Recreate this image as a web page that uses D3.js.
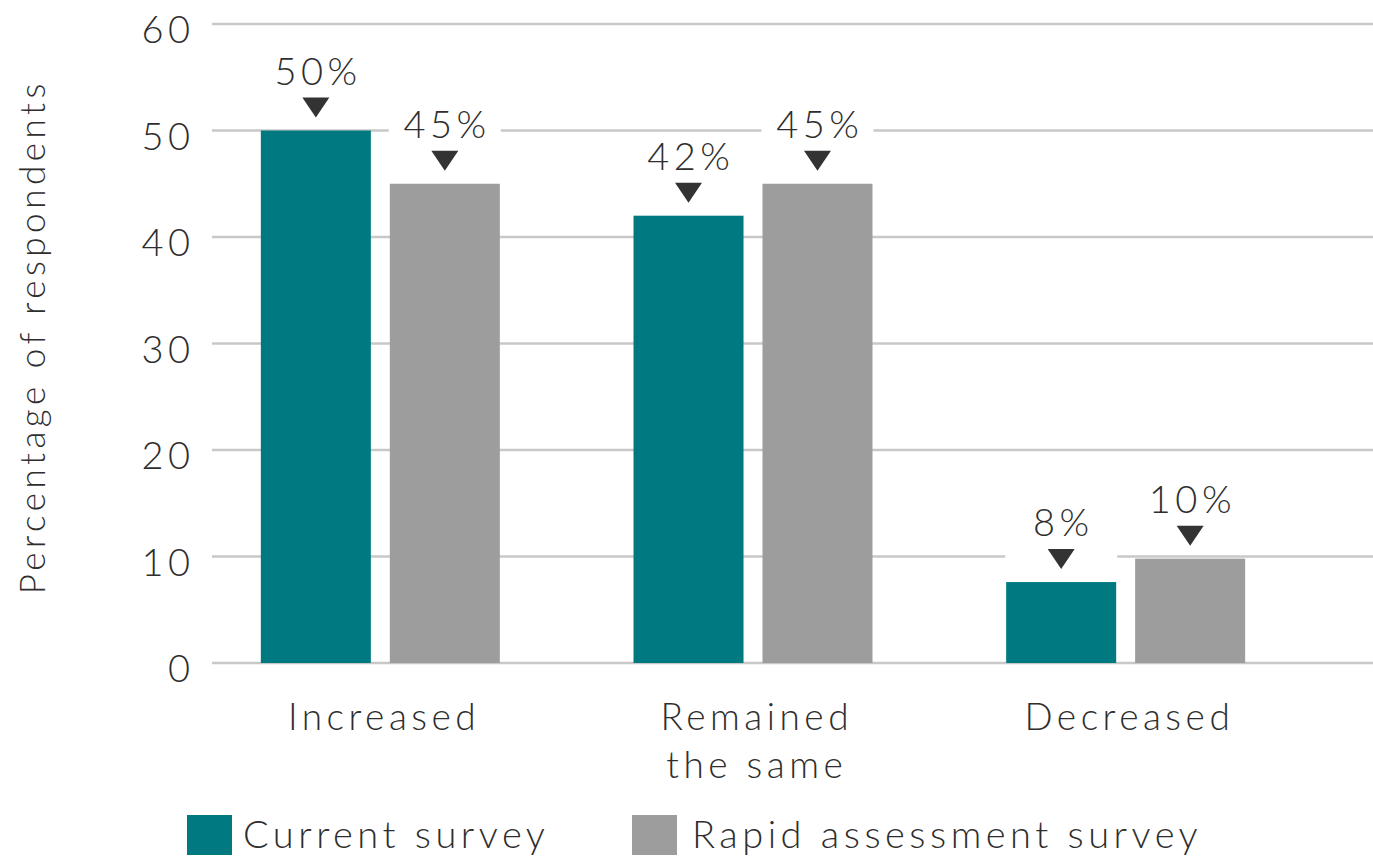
<!DOCTYPE html>
<html>
<head>
<meta charset="utf-8">
<script src="https://cdn.jsdelivr.net/npm/d3@7"></script>
<style>
  html, body { margin: 0; padding: 0; background: #ffffff; }
  svg { display: block; }
  text { font-family: "Lato", "Open Sans", sans-serif; font-weight: 300; fill: #2e2e2e; }
</style>
</head>
<body>
<svg id="chart" width="1373" height="864"></svg>
<script>
// ---- data ----
const categories = ["Increased", "Remained the same", "Decreased"];
const categoryLines = [["Increased"], ["Remained", "the same"], ["Decreased"]];
const seriesNames = ["Current survey", "Rapid assessment survey"];
const currentValues = [50, 42, 7.6];
const rapidValues = [45, 45, 9.8];
const currentLabels = ["50%", "42%", "8%"];
const rapidLabels = ["45%", "45%", "10%"];
const yTicks = [0, 10, 20, 30, 40, 50, 60];
const yTitle = "Percentage of respondents";
const colors = ["#007a80", "#9d9d9d"];

// ---- layout ----
const W = 1373, H = 864;
const svg = d3.select("#chart");
const LS = 4.5; // letter spacing

const y = d3.scaleLinear().domain([0, 60]).range([663, 24]);
const x0 = d3.scaleBand().domain(categories).range([194, 1312])
  .paddingInner(0.3587).paddingOuter(0.3587 / 2);
const x1 = d3.scaleBand().domain(seriesNames).range([0, x0.bandwidth()])
  .paddingInner(0.147).paddingOuter(0);

const rows = [];
categories.forEach((c, i) => {
  rows.push({cat: c, s: seriesNames[0], v: currentValues[i], label: currentLabels[i], color: colors[0]});
  rows.push({cat: c, s: seriesNames[1], v: rapidValues[i], label: rapidLabels[i], color: colors[1]});
});

// gridlines
svg.append("g").selectAll("line").data(yTicks).join("line")
  .attr("x1", 212).attr("x2", W)
  .attr("y1", d => y(d)).attr("y2", d => y(d))
  .attr("stroke", "#c8c8c8").attr("stroke-width", 2.5);

// y tick labels
svg.append("g").selectAll("text").data(yTicks).join("text")
  .attr("x", 190 + LS).attr("y", d => y(d) + 19)
  .attr("text-anchor", "end")
  .style("font-size", "38px").style("letter-spacing", LS + "px")
  .text(d => d);

// y title
svg.append("text")
  .attr("transform", `translate(45, ${(90 + 588) / 2}) rotate(-90)`)
  .attr("text-anchor", "middle")
  .attr("dx", LS / 2)
  .style("font-size", "35px").style("letter-spacing", LS + "px")
  .text(yTitle);

// label background boxes
const bx = d => x0(d.cat) + x1(d.s);
svg.append("g").selectAll("rect").data(rows).join("rect")
  .attr("x", d => bx(d) - 1).attr("width", x1.bandwidth() + 2)
  .attr("y", d => y(d.v) - 80).attr("height", 68)
  .attr("fill", "#ffffff");

// bars
svg.append("g").selectAll("rect").data(rows).join("rect")
  .attr("x", d => bx(d)).attr("width", x1.bandwidth())
  .attr("y", d => y(d.v)).attr("height", d => y(0) - y(d.v))
  .attr("fill", d => d.color);

// arrows
svg.append("g").selectAll("path").data(rows).join("path")
  .attr("d", d => {
    const cx = bx(d) + x1.bandwidth() / 2, t = y(d.v);
    return `M${cx - 13.5},${t - 33} L${cx + 13.5},${t - 33} L${cx},${t - 13} Z`;
  })
  .attr("fill", "#333333");

// value labels
svg.append("g").selectAll("text").data(rows).join("text")
  .attr("x", d => bx(d) + x1.bandwidth() / 2 + LS / 2)
  .attr("y", d => y(d.v) - 46)
  .attr("text-anchor", "middle")
  .style("font-size", "38px").style("letter-spacing", LS + "px")
  .text(d => d.label);

// category labels
const cg = svg.append("g").selectAll("text").data(categories).join("text")
  .attr("text-anchor", "middle")
  .style("font-size", "37px").style("letter-spacing", LS + "px");
cg.each(function(c, i) {
  const t = d3.select(this);
  categoryLines[i].forEach((ln, j) => {
    t.append("tspan")
      .attr("x", x0(c) + x0.bandwidth() / 2 + 1.5 + LS / 2)
      .attr("y", 730 + j * 48)
      .text(ln);
  });
});

// legend
const legendX = [187, 632];
const lg = svg.append("g").selectAll("g").data(seriesNames).join("g")
  .attr("transform", (d, i) => `translate(${legendX[i]}, 815)`);
lg.append("rect").attr("width", 45).attr("height", 40).attr("fill", (d, i) => colors[i]);
lg.append("text").attr("x", (d, i) => i === 0 ? 56 : 60).attr("y", 33)
  .style("font-size", "38px").style("letter-spacing", LS + "px")
  .text(d => d);
</script>
</body>
</html>
